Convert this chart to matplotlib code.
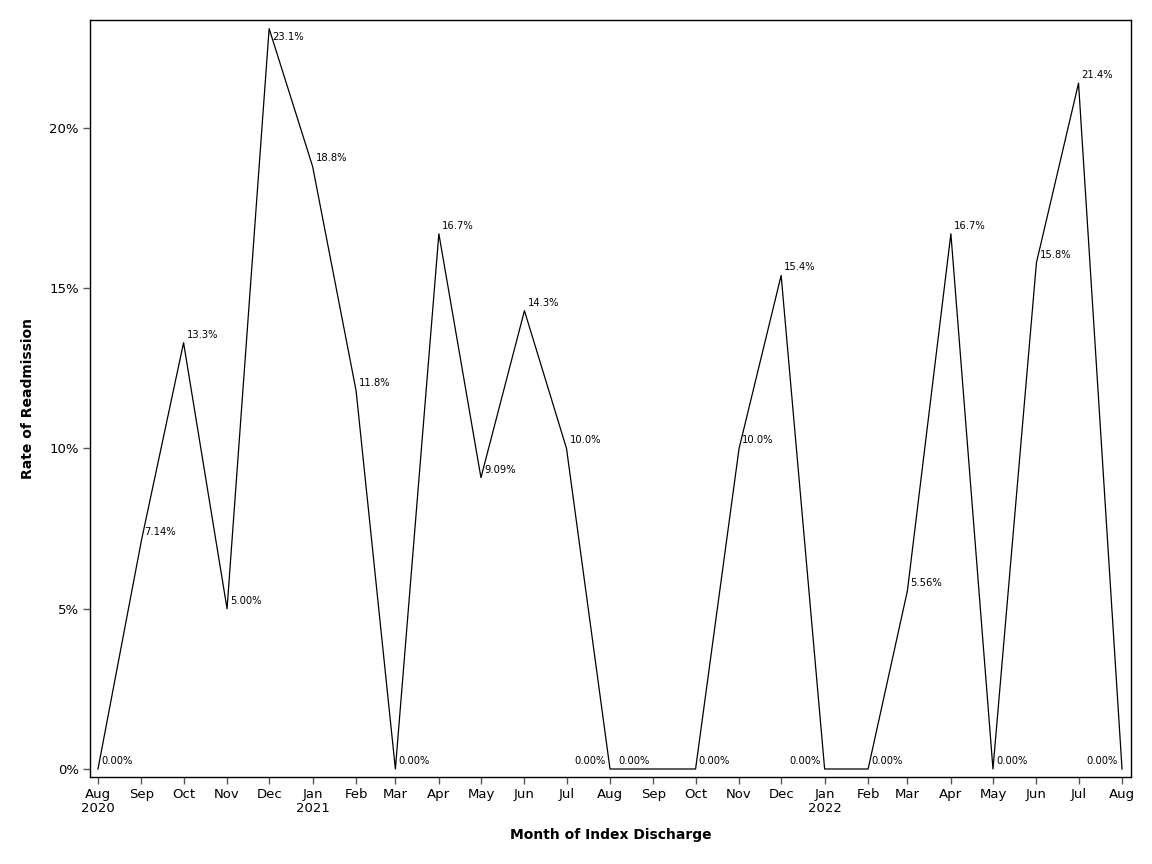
import datetime as dt
import matplotlib
matplotlib.use("Agg")
import matplotlib.pyplot as plt
import matplotlib.dates as mdates

months = [dt.date(2020 + (7 + i) // 12, (7 + i) % 12 + 1, 1) for i in range(25)]
rates = [0.00, 7.14, 13.3, 5.00, 23.1, 18.8, 11.8, 0.00, 16.7, 9.09, 14.3, 10.0,
         0.00, 0.00, 0.00, 10.0, 15.4, 0.00, 0.00, 5.56, 16.7, 0.00, 15.8, 21.4, 0.00]
rate_labels = ['0.00%', '7.14%', '13.3%', '5.00%', '23.1%', '18.8%', '11.8%', '0.00%',
               '16.7%', '9.09%', '14.3%', '10.0%', '0.00%', '0.00%', '0.00%', '10.0%',
               '15.4%', '0.00%', '0.00%', '5.56%', '16.7%', '0.00%', '15.8%', '21.4%', '0.00%']
# where each data label sits relative to its point
label_side = ['r'] * 25
for i in (12, 13, 17, 24):
    label_side[i] = 'l'
label_below = [False] * 25
label_below[4] = True

fig = plt.figure(figsize=(11.52, 8.64), dpi=100)
ax = fig.add_axes([90 / 1152, 1 - 777 / 864, (1131 - 90) / 1152, (777 - 20) / 864])

ax.plot(months, rates, color='black', lw=0.9)

for m, r, txt, side, below in zip(months, rates, rate_labels, label_side, label_below):
    dx = 3 if side == 'r' else -4
    dy = -8 if below else 8
    ax.annotate(txt, (mdates.date2num(m), r), xytext=(dx, dy), textcoords='offset pixels',
                ha='left' if side == 'r' else 'right', va='center', fontsize=7.2)

ax.set_xlim(mdates.date2num(months[0]) - 5.7, mdates.date2num(months[-1]) + 6.4)
ax.set_ylim(-0.25, 23.37)

tick_labels = []
for m in months:
    lab = m.strftime('%b')
    if m.month == 1 or m == months[0]:
        lab += '\n' + str(m.year)
    tick_labels.append(lab)
ax.set_xticks([mdates.date2num(m) for m in months])
ax.set_xticklabels(tick_labels, linespacing=1.05)

ax.set_yticks([0, 5, 10, 15, 20])
ax.set_yticklabels(['0%', '5%', '10%', '15%', '20%'])

ax.tick_params(axis='both', direction='out', length=5, width=1, color='#555555',
               labelsize=9.5, pad=3)
for s in ax.spines.values():
    s.set_linewidth(1)

ax.set_xlabel('Month of Index Discharge', fontsize=10, fontweight='bold', labelpad=10)
ax.set_ylabel('Rate of Readmission', fontsize=10, fontweight='bold', labelpad=10)

fig.savefig('out.png', dpi=100)
